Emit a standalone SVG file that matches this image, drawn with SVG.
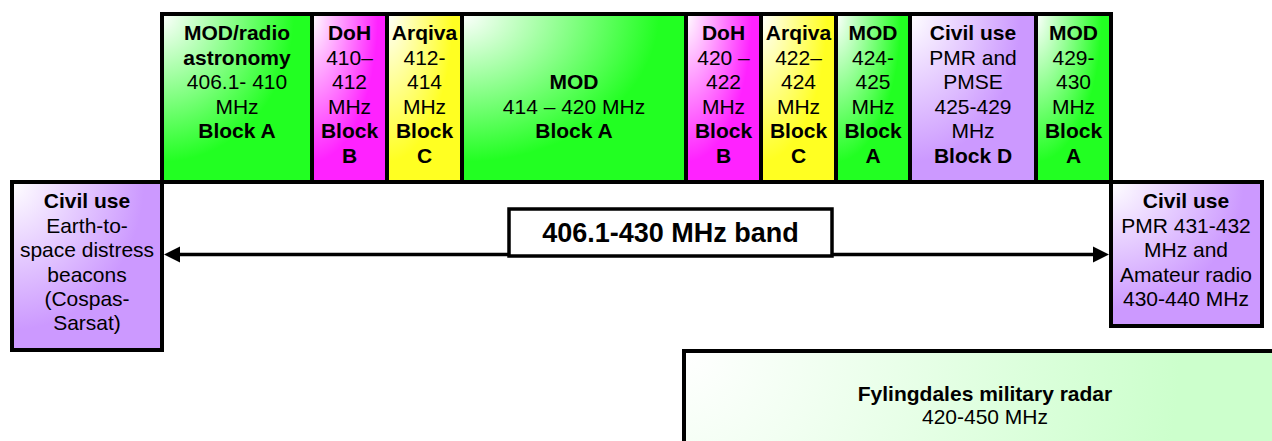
<svg xmlns="http://www.w3.org/2000/svg" width="1272" height="441" viewBox="0 0 1272 441">
<defs>
<radialGradient id="gGreen" cx="0" cy="0" r="1.1" fx="0" fy="0"><stop offset="0" stop-color="#ffffff"/><stop offset="0.8" stop-color="#22ff22"/><stop offset="1" stop-color="#22ff22"/></radialGradient>
<radialGradient id="gMag" cx="0" cy="0" r="1.1" fx="0" fy="0"><stop offset="0" stop-color="#ffffff"/><stop offset="0.8" stop-color="#ff22ff"/><stop offset="1" stop-color="#ff22ff"/></radialGradient>
<radialGradient id="gYel" cx="0" cy="0" r="1.1" fx="0" fy="0"><stop offset="0" stop-color="#ffffff"/><stop offset="0.8" stop-color="#ffff22"/><stop offset="1" stop-color="#ffff22"/></radialGradient>
<radialGradient id="gPur" cx="0" cy="0" r="1.1" fx="0" fy="0"><stop offset="0" stop-color="#ffffff"/><stop offset="0.8" stop-color="#cc99ff"/><stop offset="1" stop-color="#cc99ff"/></radialGradient>
<radialGradient id="gLight" gradientUnits="userSpaceOnUse" cx="684" cy="351" r="620" fx="684" fy="351"><stop offset="0" stop-color="#ffffff"/><stop offset="0.8" stop-color="#ccffcc"/><stop offset="1" stop-color="#ccffcc"/></radialGradient>
</defs>
<style>
.box{stroke:#000;stroke-width:4;}
.head{fill:#000;}
text{font-family:"Liberation Sans",Arial,sans-serif;font-size:21px;fill:#000;text-anchor:middle;}
.b{font-weight:bold;}
.big{font-size:27px;font-weight:bold;}
</style>

<g id="connectors">
<line x1="175" y1="254.5" x2="1096" y2="254.5" stroke="#000" stroke-width="3.5"/>
<polygon class="head" points="164,254.5 180,246.5 180,262.5"/>
<polygon class="head" points="1109,254.5 1093,246.5 1093,262.5"/>
</g>

<g id="block1">
<rect class="box" x="162" y="14" width="150" height="168" fill="url(#gGreen)"/>
<text x="237" y="40" class="b">MOD/radio</text>
<text x="237" y="65" class="b">astronomy</text>
<text x="237" y="89">406.1- 410</text>
<text x="237" y="114">MHz</text>
<text x="237" y="138" class="b">Block A</text>
</g>
<g id="block2">
<rect class="box" x="312" y="14" width="75" height="168" fill="url(#gMag)"/>
<text x="349.5" y="40" class="b">DoH</text>
<text x="349.5" y="65">410–</text>
<text x="349.5" y="89">412</text>
<text x="349.5" y="114">MHz</text>
<text x="349.5" y="138" class="b">Block</text>
<text x="349.5" y="163" class="b">B</text>
</g>
<g id="block3">
<rect class="box" x="387" y="14" width="75" height="168" fill="url(#gYel)"/>
<text x="424.5" y="40" class="b">Arqiva</text>
<text x="424.5" y="65">412-</text>
<text x="424.5" y="89">414</text>
<text x="424.5" y="114">MHz</text>
<text x="424.5" y="138" class="b">Block</text>
<text x="424.5" y="163" class="b">C</text>
</g>
<g id="block4">
<rect class="box" x="462" y="14" width="224" height="168" fill="url(#gGreen)"/>
<text x="574" y="89" class="b">MOD</text>
<text x="574" y="114">414 – 420 MHz</text>
<text x="574" y="138" class="b">Block A</text>
</g>
<g id="block5">
<rect class="box" x="686" y="14" width="75" height="168" fill="url(#gMag)"/>
<text x="723.5" y="40" class="b">DoH</text>
<text x="723.5" y="65">420 –</text>
<text x="723.5" y="89">422</text>
<text x="723.5" y="114">MHz</text>
<text x="723.5" y="138" class="b">Block</text>
<text x="723.5" y="163" class="b">B</text>
</g>
<g id="block6">
<rect class="box" x="761" y="14" width="75" height="168" fill="url(#gYel)"/>
<text x="798.5" y="40" class="b">Arqiva</text>
<text x="798.5" y="65">422–</text>
<text x="798.5" y="89">424</text>
<text x="798.5" y="114">MHz</text>
<text x="798.5" y="138" class="b">Block</text>
<text x="798.5" y="163" class="b">C</text>
</g>
<g id="block7">
<rect class="box" x="836" y="14" width="74" height="168" fill="url(#gGreen)"/>
<text x="873" y="40" class="b">MOD</text>
<text x="873" y="65">424-</text>
<text x="873" y="89">425</text>
<text x="873" y="114">MHz</text>
<text x="873" y="138" class="b">Block</text>
<text x="873" y="163" class="b">A</text>
</g>
<g id="block8">
<rect class="box" x="910" y="14" width="126" height="168" fill="url(#gPur)"/>
<text x="973" y="40" class="b">Civil use</text>
<text x="973" y="65">PMR and</text>
<text x="973" y="89">PMSE</text>
<text x="973" y="114">425-429</text>
<text x="973" y="138">MHz</text>
<text x="973" y="163" class="b">Block D</text>
</g>
<g id="block9">
<rect class="box" x="1036" y="14" width="75" height="168" fill="url(#gGreen)"/>
<text x="1073.5" y="40" class="b">MOD</text>
<text x="1073.5" y="65">429-</text>
<text x="1073.5" y="89">430</text>
<text x="1073.5" y="114">MHz</text>
<text x="1073.5" y="138" class="b">Block</text>
<text x="1073.5" y="163" class="b">A</text>
</g>

<g id="civil-left">
<rect class="box" x="12" y="182" width="150" height="168" fill="url(#gPur)"/>
<text x="87" y="208" class="b">Civil use</text>
<text x="87" y="233">Earth-to-</text>
<text x="87" y="257">space distress</text>
<text x="87" y="282">beacons</text>
<text x="87" y="306">(Cospas-</text>
<text x="87" y="330">Sarsat)</text>
</g>
<g id="civil-right">
<rect class="box" x="1111" y="182" width="151" height="144" fill="url(#gPur)"/>
<text x="1186" y="208" class="b">Civil use</text>
<text x="1186" y="233">PMR 431-432</text>
<text x="1186" y="257">MHz and</text>
<text x="1186" y="282">Amateur radio</text>
<text x="1186" y="306">430-440 MHz</text>
</g>

<g id="band-label">
<rect x="509" y="209" width="323" height="47" fill="#fff" stroke="#000" stroke-width="3.5"/>
<text x="670.5" y="242" class="big">406.1-430 MHz band</text>
</g>

<g id="fylingdales">
<rect class="box" x="684" y="351" width="620" height="120" fill="url(#gLight)" stroke-width="4.5"/>
<text x="985" y="401" class="b">Fylingdales military radar</text>
<text x="985" y="424">420-450 MHz</text>
</g>
</svg>
